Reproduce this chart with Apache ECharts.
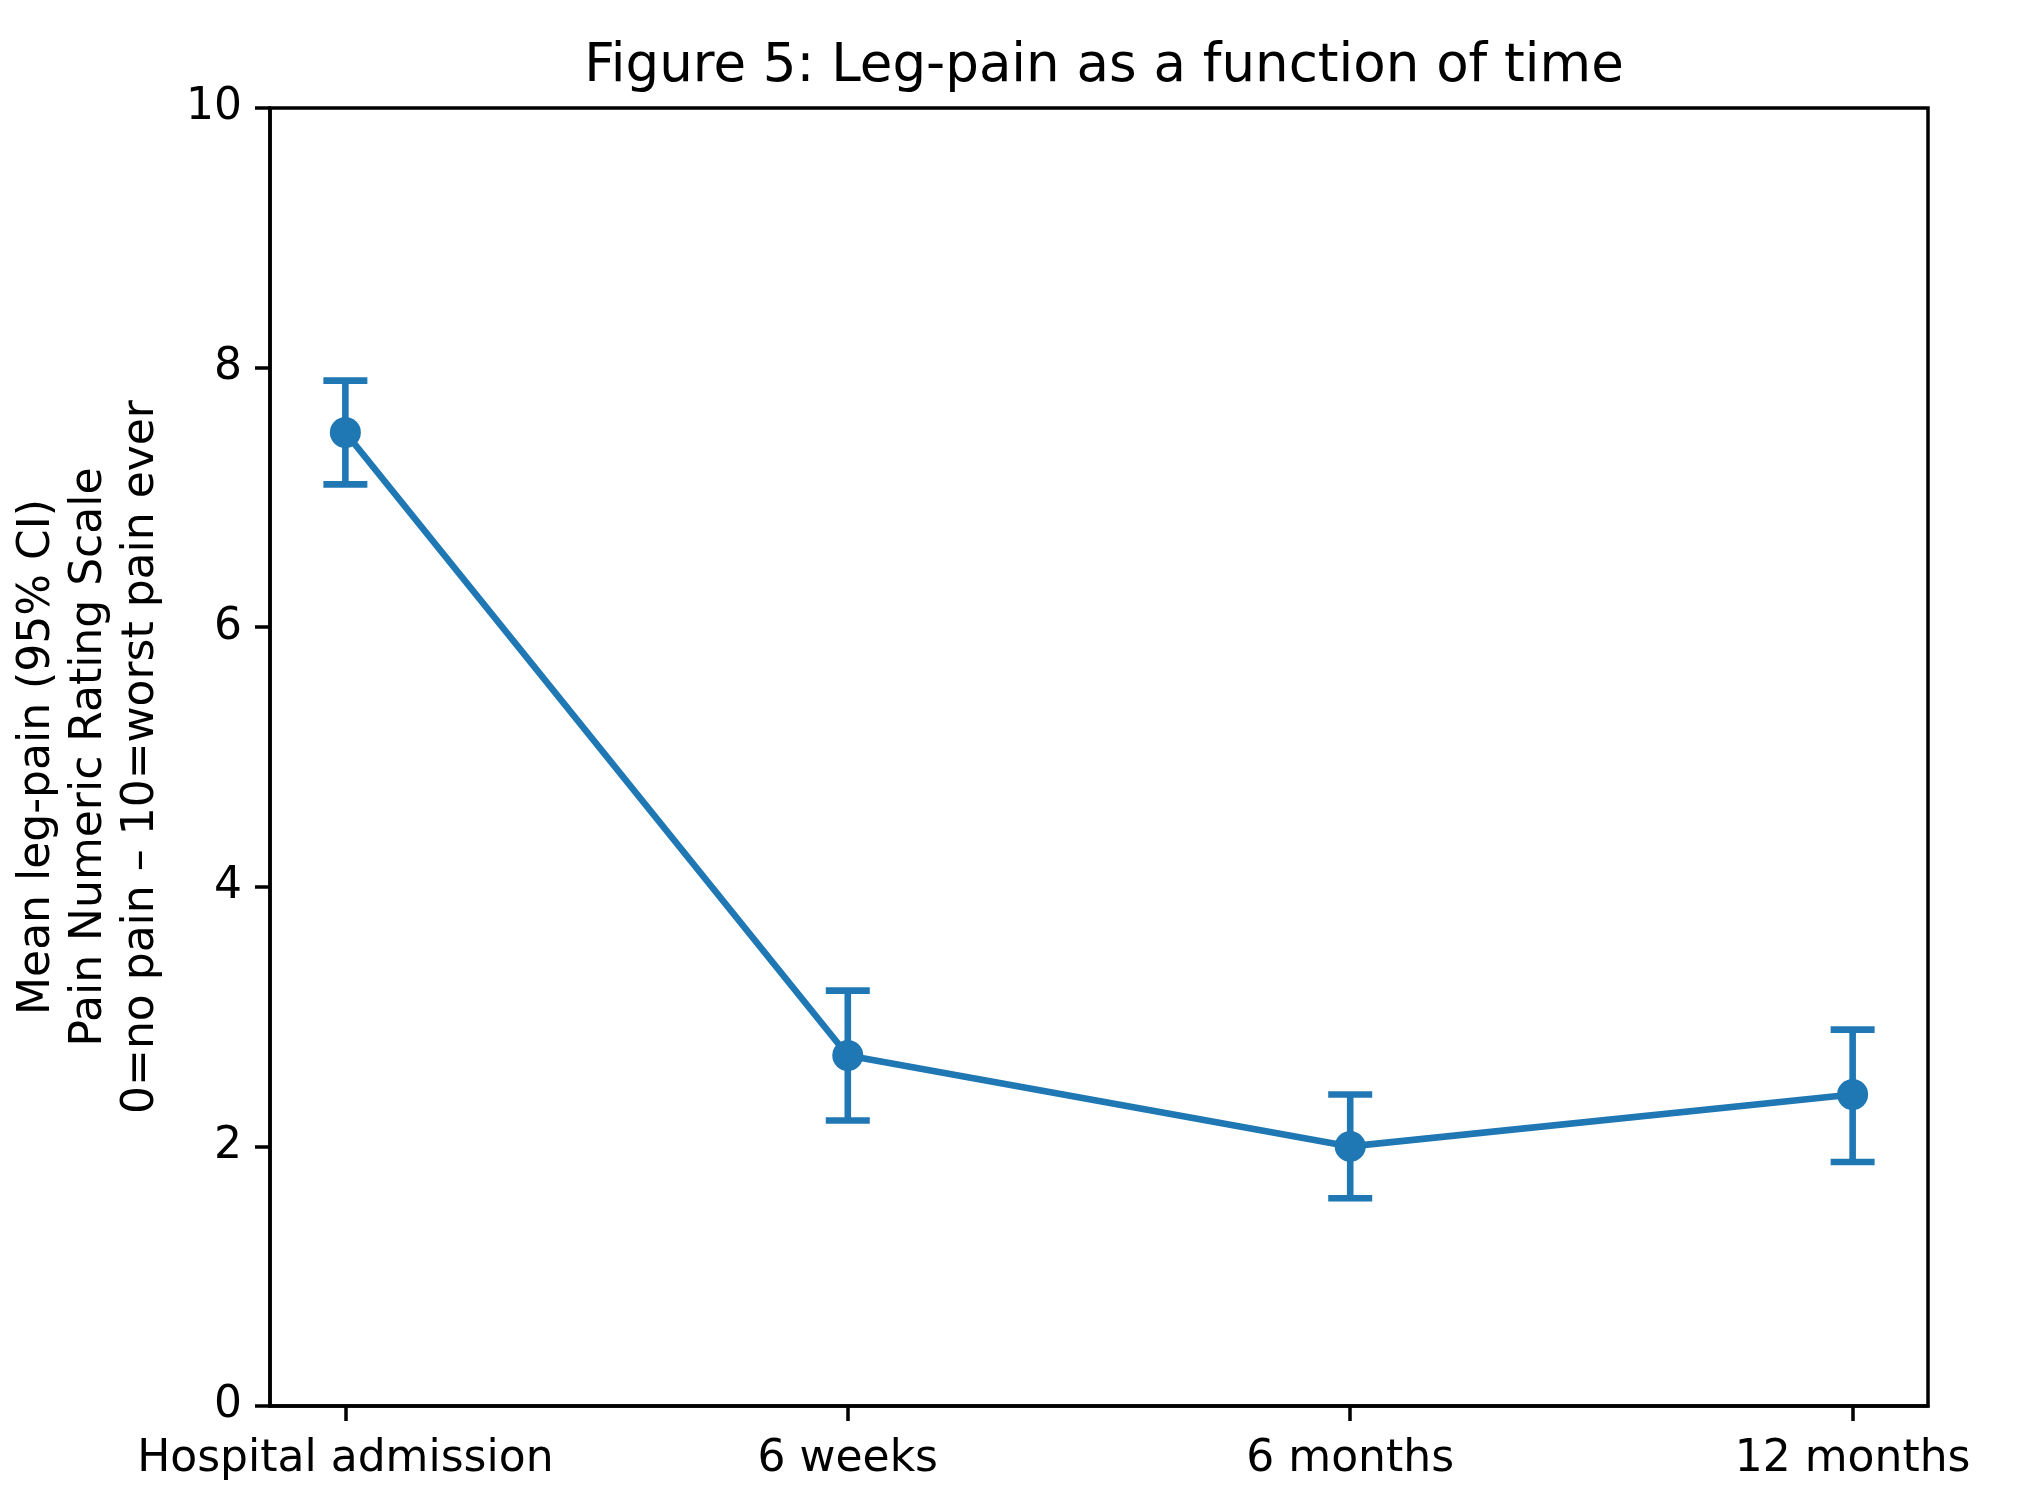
<!DOCTYPE html>
<html>
<head>
<meta charset="utf-8">
<script src="https://cdn.jsdelivr.net/npm/echarts@6/dist/echarts.min.js"></script>
<style>
html,body{margin:0;padding:0;background:#fff;}
#chart{width:2036px;height:1510px;}
</style>
</head>
<body>
<div id="chart"></div>
<script>
const categories = ['Hospital admission', '6 weeks', '6 months', '12 months'];
const meanPain = [7.5, 2.7, 2.0, 2.4];
const ciLower = [7.1, 2.2, 1.6, 1.88];
const ciUpper = [7.9, 3.2, 2.4, 2.9];
const yTicks = [0, 2, 4, 6, 8, 10];

const COLOR = '#1f77b4';
const FONT = 'DejaVu Sans';

const lineData = meanPain.map((v, i) => [i, v]);
const errData = meanPain.map((v, i) => [i, ciLower[i], ciUpper[i]]);
const catIdx = categories.map((c, i) => i);

const chart = echarts.init(document.getElementById('chart'), null, {renderer: 'canvas'});
chart.setOption({
  backgroundColor: '#fff',
  animation: false,
  title: {
    text: 'Figure 5: Leg-pain as a function of time',
    left: 1099, top: 36, textAlign: 'center',
    textStyle: {fontFamily: FONT, fontSize: 53, fontWeight: 'normal', color: '#000'}
  },
  grid: {
    left: 270, right: 108, top: 108, bottom: 104,
    containLabel: false, outerBoundsMode: 'none',
    show: true, borderColor: '#000', borderWidth: 3.5, backgroundColor: 'transparent'
  },
  xAxis: {
    type: 'value', min: -0.15, max: 3.15,
    axisLine: {show: true, onZero: false, lineStyle: {color: '#000', width: 3.5}},
    axisTick: {show: true, customValues: catIdx, length: 15, lineStyle: {color: '#000', width: 3.5}},
    axisLabel: {
      show: true, customValues: catIdx, margin: 32,
      fontFamily: FONT, fontSize: 44, color: '#000',
      formatter: v => categories[Math.round(v)] || ''
    },
    splitLine: {show: false}
  },
  yAxis: {
    type: 'value', min: 0, max: 10, interval: 2,
    name: 'Mean leg-pain (95% CI)\nPain Numeric Rating Scale\n0=no pain – 10=worst pain ever',
    nameLocation: 'middle', nameRotate: 90, nameGap: 102,
    nameTextStyle: {fontFamily: FONT, fontSize: 44, color: '#000', lineHeight: 52, align: 'center'},
    axisLine: {show: true, onZero: false, lineStyle: {color: '#000', width: 3.5}},
    axisTick: {show: true, length: 15, lineStyle: {color: '#000', width: 3.5}},
    axisLabel: {
      margin: 28, fontFamily: FONT, fontSize: 44, color: '#000',
      customValues: yTicks
    },
    splitLine: {show: false}
  },
  series: [
    {
      type: 'custom',
      data: errData,
      z: 2,
      renderItem: function (params, api) {
        const x = api.value(0);
        const lo = api.coord([x, api.value(1)]);
        const hi = api.coord([x, api.value(2)]);
        const hw = 22;
        const style = {stroke: COLOR, lineWidth: 6.6, fill: null};
        return {
          type: 'group',
          children: [
            {type: 'line', shape: {x1: lo[0], y1: lo[1], x2: hi[0], y2: hi[1]}, style: style},
            {type: 'line', shape: {x1: lo[0] - hw, y1: lo[1], x2: lo[0] + hw, y2: lo[1]}, style: style},
            {type: 'line', shape: {x1: hi[0] - hw, y1: hi[1], x2: hi[0] + hw, y2: hi[1]}, style: style}
          ]
        };
      }
    },
    {
      type: 'line',
      data: lineData,
      z: 3,
      symbol: 'circle',
      symbolSize: 31,
      itemStyle: {color: COLOR},
      lineStyle: {color: COLOR, width: 6.6}
    }
  ]
});
</script>
</body>
</html>
